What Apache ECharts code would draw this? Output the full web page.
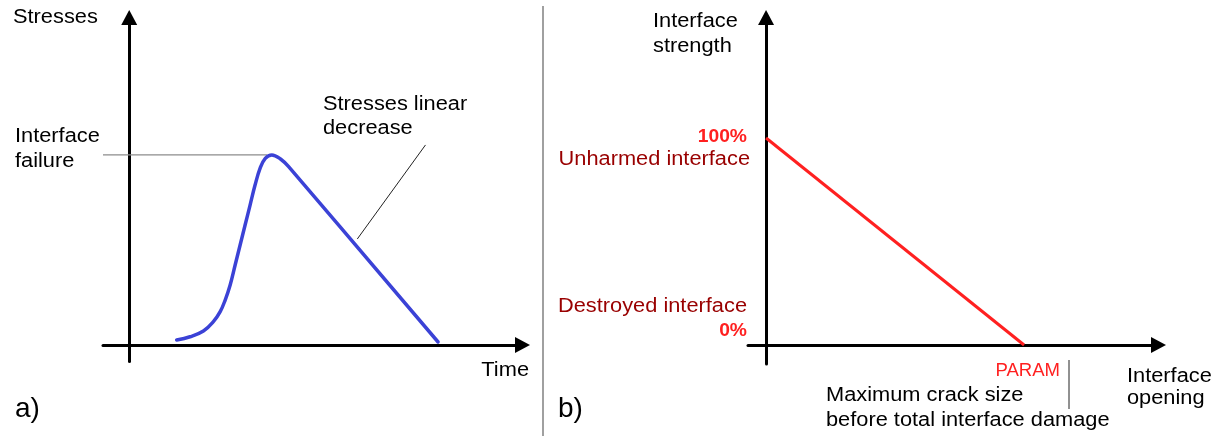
<!DOCTYPE html>
<html>
<head>
<meta charset="utf-8">
<script src="https://cdn.jsdelivr.net/npm/echarts@6/dist/echarts.min.js"></script>
<style>
  html, body { margin: 0; padding: 0; background: #fff; }
  #chart { width: 1220px; height: 436px; }
</style>
</head>
<body>
<div id="chart"></div>
<script>
// a) stress history across the interface
const timeValues   = [1.81, 2.32, 2.83, 3.21, 3.47, 3.66, 3.85, 4.04, 4.23, 4.42, 4.61, 4.80, 4.99, 5.19, 5.44, 5.77, 6.08, 11.78];
const stressValues = [0.31, 0.51, 0.86, 1.43, 2.04, 2.75, 3.67, 4.89, 6.11, 7.33, 8.55, 9.77, 10.79, 11.40, 11.61, 11.36, 10.89, 0.19];
const failureLevel = 11.61;
const failureLeaderTime = [-1, 5.26];
const decreaseLeaderTime = [11.30, 8.70];
const decreaseLeaderStress = [12.22, 6.48];

// b) interface strength (%) against opening (in units of PARAM)
const openingValues  = [0, 1];
const strengthValues = [100, 0];

const FAMILY = '"Liberation Sans", Arial, sans-serif';
const BLACK = '#000000';
const BRIGHT_RED = '#ff2020';
const DARK_RED = '#990000';

function zip(xs, ys) { return xs.map((x, i) => [x, ys[i]]); }

const axisBase = {
  type: 'value',
  axisLine: {
    show: true,
    onZero: true,
    symbol: ['none', 'triangle'],
    symbolSize: [16, 15],
    lineStyle: { color: BLACK, width: 3 }
  },
  axisTick: { show: false },
  axisLabel: { show: false },
  splitLine: { show: false }
};

// text placed by its baseline; widen slightly for the wide screen lettering
function label(text, x, baseline, size, opts) {
  opts = opts || {};
  const align = opts.align || 'left';
  return {
    type: 'text',
    x: x,
    y: baseline - 0.3465 * size,
    scaleX: opts.stretch || 1.09,
    silent: true,
    style: {
      text: text,
      font: (opts.weight || 'normal') + ' ' + size + 'px ' + FAMILY,
      fill: opts.color || BLACK,
      align: align, textAlign: align,
      verticalAlign: 'middle', textVerticalAlign: 'middle'
    }
  };
}

function rule(x1, y1, x2, y2, color, width) {
  return { type: 'line', silent: true, shape: { x1, y1, x2, y2 }, style: { stroke: color, lineWidth: width } };
}

const chart = echarts.init(document.getElementById('chart'), null, { renderer: 'canvas' });

chart.setOption({
  animation: false,
  backgroundColor: '#ffffff',
  grid: [
    { left: 103, top: 17.5, width: 419.5, height: 344, outerBoundsMode: 'none' },
    { left: 748, top: 17.5, width: 410.5, height: 346.5, outerBoundsMode: 'none' }
  ],
  xAxis: [
    Object.assign({}, axisBase, { gridIndex: 0, min: -1, max: 15 }),
    Object.assign({}, axisBase, { gridIndex: 1, min: -0.07, max: 1.521 })
  ],
  yAxis: [
    Object.assign({}, axisBase, { gridIndex: 0, min: -1, max: 20 }),
    Object.assign({}, axisBase, { gridIndex: 1, min: -9.2, max: 158.2 })
  ],
  series: [
    {
      name: 'Interface failure leader',
      type: 'line', xAxisIndex: 0, yAxisIndex: 0,
      data: zip(failureLeaderTime, [failureLevel, failureLevel]),
      showSymbol: false, silent: true,
      lineStyle: { color: '#8c8c8c', width: 1.2 }, z: 1
    },
    {
      name: 'Stresses',
      type: 'line', xAxisIndex: 0, yAxisIndex: 0,
      data: zip(timeValues, stressValues),
      smooth: 0.4,
      showSymbol: false, silent: true,
      lineStyle: { color: '#3b42d6', width: 3.5, cap: 'round', join: 'round' }, z: 3
    },
    {
      name: 'Linear decrease leader',
      type: 'line', xAxisIndex: 0, yAxisIndex: 0,
      data: zip(decreaseLeaderTime, decreaseLeaderStress),
      showSymbol: false, silent: true,
      lineStyle: { color: '#222222', width: 1 }, z: 2
    },
    {
      name: 'Interface strength',
      type: 'line', xAxisIndex: 1, yAxisIndex: 1,
      data: zip(openingValues, strengthValues),
      showSymbol: false, silent: true,
      lineStyle: { color: BRIGHT_RED, width: 3 }, z: 3
    }
  ],
  graphic: [
    // panel separator
    rule(543, 6, 543, 436, '#808080', 1.5),

    // panel a)
    label('Stresses', 13, 24, 20),
    label('Interface', 15, 143.5, 20),
    label('failure', 15, 168, 20),
    label('Stresses linear', 323, 111, 20),
    label('decrease', 323, 135, 20),
    label('Time', 529, 377, 20, { align: 'right' }),
    label('a)', 15, 419, 28, { stretch: 1 }),

    // panel b)
    label('Interface', 653, 28, 20),
    label('strength', 653, 53, 20),
    label('100%', 747, 143, 18, { align: 'right', color: BRIGHT_RED, weight: 'bold', stretch: 1.07 }),
    label('Unharmed interface', 750, 166, 20, { align: 'right', color: DARK_RED }),
    label('Destroyed interface', 747, 313, 20, { align: 'right', color: DARK_RED }),
    label('0%', 747, 337, 18, { align: 'right', color: BRIGHT_RED, weight: 'bold', stretch: 1.07 }),
    label('b)', 558, 419, 28, { stretch: 1 }),
    label('PARAM', 1060, 377, 18, { align: 'right', color: BRIGHT_RED, stretch: 1.03 }),
    rule(1069, 360, 1069, 409, '#222222', 1),
    label('Maximum crack size', 826, 402, 20),
    label('before total interface damage', 826, 427, 20),
    label('Interface', 1127, 383, 20),
    label('opening', 1127, 405, 20)
  ]
});
</script>
</body>
</html>
